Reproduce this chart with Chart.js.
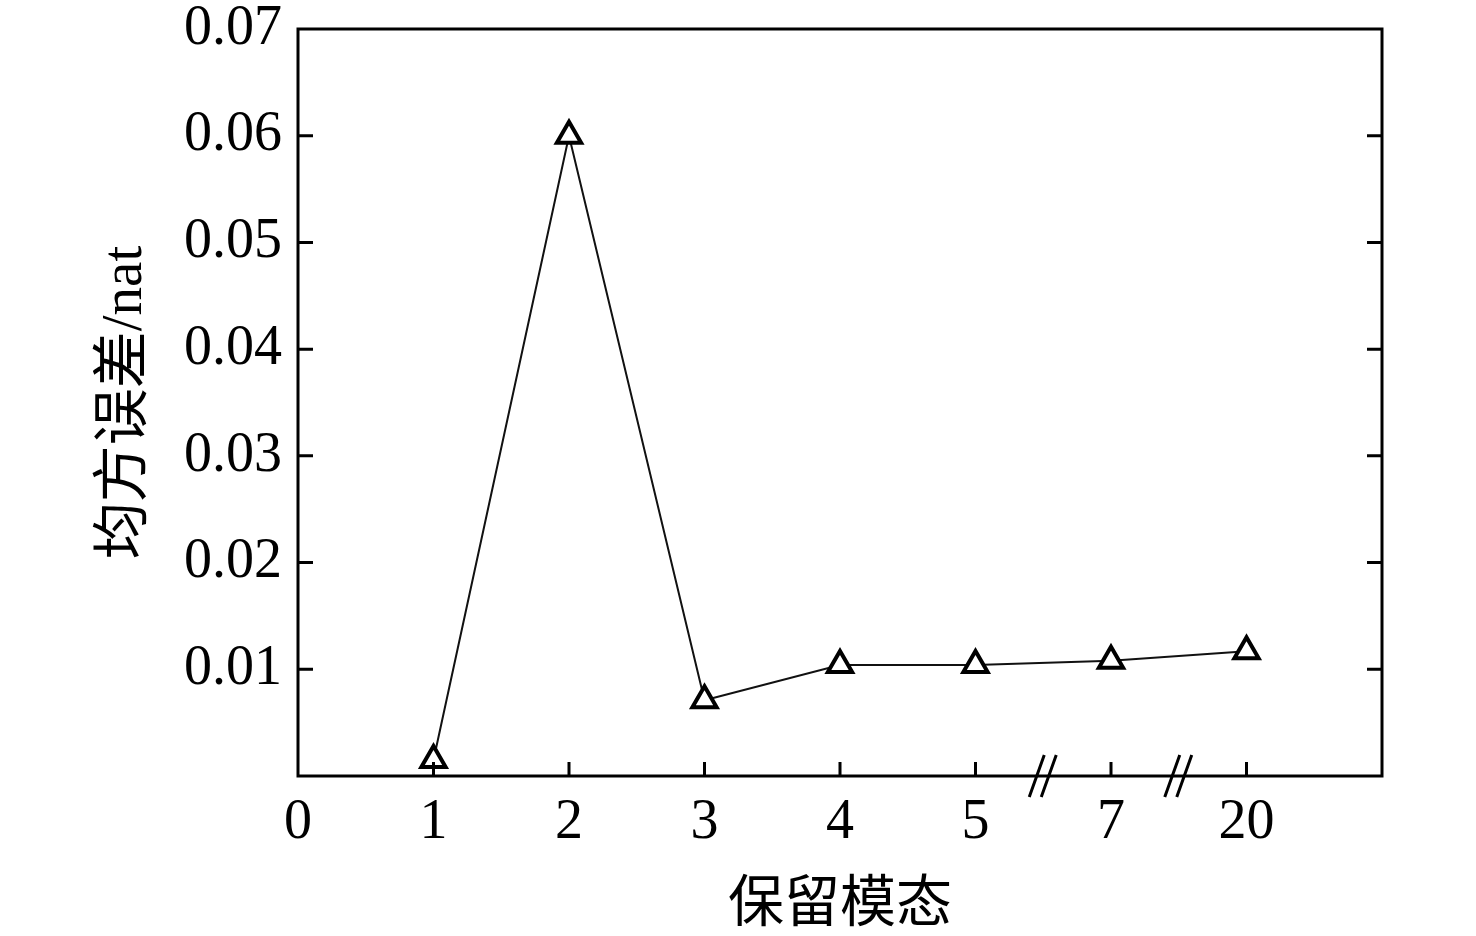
<!DOCTYPE html>
<html>
<head>
<meta charset="utf-8">
<script src="https://cdn.jsdelivr.net/npm/chart.js@4/dist/chart.umd.min.js"></script>
<style>
	html, body { margin: 0; padding: 0; background: #fff; }
	#wrap { width: 1476px; height: 936px; }
</style>
</head>
<body>
<div id="wrap"><canvas id="chart"></canvas></div>
<script>
// tick labels along x (positions 0..8, last one blank)
const xTickLabels = ['0', '1', '2', '3', '4', '5', '7', '20', ''];
// retained modes and mean squared error
const modes = ['1', '2', '3', '4', '5', '7', '20'];
const mse = [0.0015, 0.0600, 0.0071, 0.0104, 0.0104, 0.0108, 0.0117];
// axis breaks sit between 5|7 and 7|20
const axisBreaks = [5.5, 6.5];

const serif = '"Liberation Serif", "Times New Roman", "Noto Sans CJK SC", serif';

const frame = {
	id: 'frame',
	afterDraw(chart) {
		const {ctx, chartArea: a, scales: {x, y}} = chart;
		ctx.save();
		ctx.strokeStyle = '#000';
		ctx.lineWidth = 3;
		ctx.strokeRect(a.left, a.top, a.right - a.left, a.bottom - a.top);

		ctx.beginPath();
		x.ticks.forEach((t) => {
			if (t.value <= 0 || t.value >= 8) return;
			const px = x.getPixelForValue(t.value);
			ctx.moveTo(px, a.bottom);
			ctx.lineTo(px, a.bottom - 14);
		});
		y.ticks.forEach((t) => {
			if (t.value <= 0 || t.value >= 0.07) return;
			const py = y.getPixelForValue(t.value);
			ctx.moveTo(a.left, py);
			ctx.lineTo(a.left + 15, py);
			ctx.moveTo(a.right, py);
			ctx.lineTo(a.right - 15, py);
		});
		ctx.stroke();

		ctx.lineWidth = 3;
		ctx.beginPath();
		axisBreaks.forEach((v) => {
			const px = x.getPixelForValue(v);
			[-6, 6].forEach((d) => {
				ctx.moveTo(px + d - 8, a.bottom + 21);
				ctx.lineTo(px + d + 7, a.bottom - 21);
			});
		});
		ctx.stroke();
		ctx.restore();
	}
};

new Chart(document.getElementById('chart'), {
	type: 'line',
	data: {
		datasets: [
			{
				data: modes.map((m, i) => ({x: xTickLabels.indexOf(m), y: mse[i]})),
				borderColor: '#111',
				borderWidth: 2,
				pointStyle: 'triangle',
				pointRadius: 14,
				pointBorderWidth: 4,
				pointBackgroundColor: '#fff',
				pointBorderColor: '#000',
				tension: 0
			}
		]
	},
	options: {
		responsive: true,
		maintainAspectRatio: false,
		animation: false,
		layout: {padding: {top: 29, right: 94, left: 0, bottom: 0}},
		plugins: {legend: {display: false}, tooltip: {enabled: false}},
		scales: {
			x: {
				type: 'linear',
				min: 0,
				max: 8,
				afterFit: (s) => { s.height = 160; },
				afterBuildTicks: (s) => { s.ticks = xTickLabels.map((_, i) => ({value: i})); },
				ticks: {
					stepSize: 1,
					autoSkip: false,
					maxRotation: 0,
					padding: 6,
					color: '#000',
					font: {family: serif, size: 56},
					callback: (v) => xTickLabels[v]
				},
				grid: {display: false},
				border: {display: false},
				title: {
					display: true,
					text: '保留模态',
					color: '#000',
					font: {family: serif, size: 56},
					padding: {top: 0, bottom: -4}
				}
			},
			y: {
				min: 0,
				max: 0.07,
				afterFit: (s) => {
					s.width = 298;
					s.paddingTop = 0;
					s.paddingBottom = 0;
				},
				ticks: {
					stepSize: 0.01,
					padding: 8,
					color: '#000',
					font: {family: serif, size: 56},
					callback: (v) => (v === 0 ? '' : v.toFixed(2))
				},
				grid: {display: false},
				border: {display: false},
				title: {
					display: true,
					text: '均方误差/nat',
					color: '#000',
					font: {family: serif, size: 57},
					padding: {top: 92, bottom: 0}
				}
			}
		}
	},
	plugins: [frame]
});
</script>
</body>
</html>
